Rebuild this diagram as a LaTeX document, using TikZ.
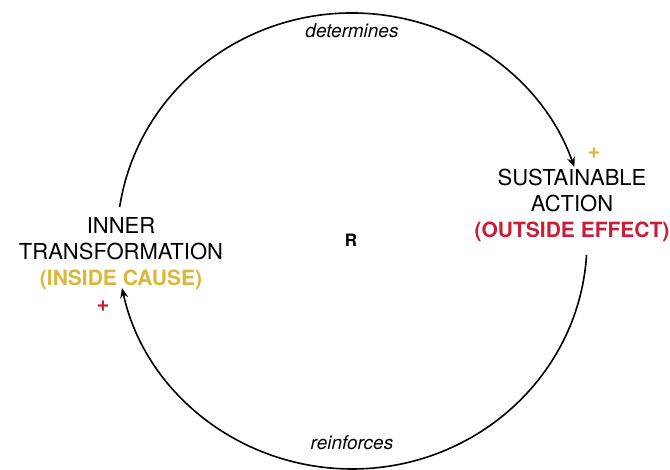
\documentclass[tikz,border=0pt]{standalone}
\usepackage{fontspec}
\setmainfont{TeX Gyre Heros}
\usepackage{tikz}
\usetikzlibrary{arrows.meta}
\usepackage{xcolor}
\definecolor{causegold}{RGB}{218,183,58}
\definecolor{effectred}{RGB}{200,30,55}

\begin{document}
\begin{tikzpicture}[x=1pt, y=1pt,
  var/.style = {align=center, anchor=base, font=\fontsize{22}{26}\selectfont, inner sep=0pt},
  link/.style = {anchor=base, font=\fontsize{19}{22}\selectfont\itshape, inner sep=0pt},
  sign/.style = {font=\fontsize{22}{24}\selectfont\bfseries, inner sep=0pt},
  loop/.style = {line width=1.6pt, -{Stealth[length=10pt, width=8pt]}}]
\useasboundingbox (0,0) rectangle (670,470);
% the two variables (base = baseline of last line)
\node[var] (inner) at (121,184) {INNER\\TRANSFORMATION\\{\fontsize{21}{26}\selectfont\bfseries\color{causegold}(INSIDE CAUSE)}};
\node[var] (action) at (572,232) {SUSTAINABLE\\ACTION\\{\fontsize{21}{26}\selectfont\bfseries\color{effectred}(OUTSIDE EFFECT)}};
\node[anchor=base, font=\fontsize{17}{20}\selectfont\bfseries] (loopname) at (351,223) {R};
% the loop itself
\coordinate (c) at (352,229);
\coordinate (topstart) at ([shift={(c)}]171.4:235pt and 228pt);
\coordinate (botstart) at ([shift={(c)}]-3.5:235pt and 228pt);
\draw[loop] (topstart) arc[start angle=171.4, end angle=18.9, x radius=235pt, y radius=228pt];
\draw[loop] (botstart) arc[start angle=-3.5, end angle=-168.1, x radius=235pt, y radius=228pt];
\node[link] (determines) at (352,432) {determines};
\node[link] (reinforces) at (352,20) {reinforces};
\node[sign, text=causegold] (plusaction) at (594,317) {+};
\node[sign, text=effectred] (plusinner) at (103,164) {+};
\end{tikzpicture}
\end{document}
